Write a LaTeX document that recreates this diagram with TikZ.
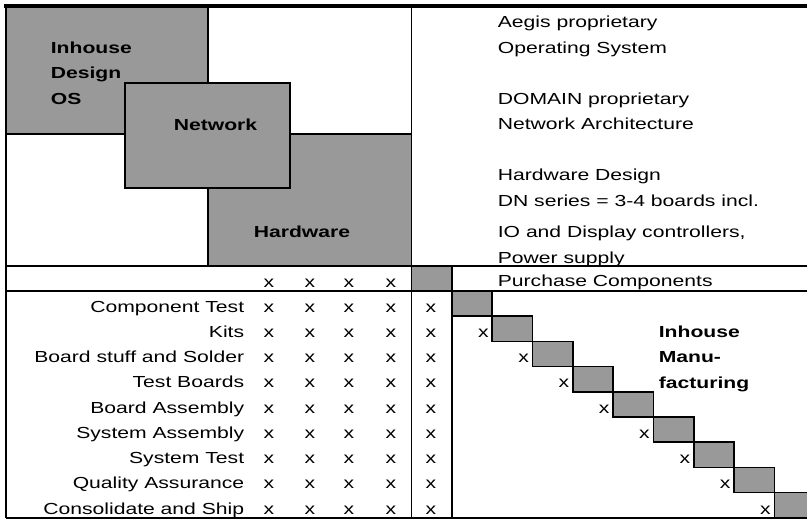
\documentclass[tikz,border=0pt]{standalone}
\usepackage{fontspec}
\setmainfont[FakeStretch=1.32]{Liberation Sans}
\definecolor{boxgrey}{RGB}{153,153,153}
\begin{document}
\begin{tikzpicture}[x=1pt,y=-1pt,line width=1.7pt,
  box/.style={fill=boxgrey,draw=black,line width=1.7pt},
  txt/.style={anchor=base west,inner sep=0pt,font=\fontsize{16}{18}\selectfont},
  btxt/.style={anchor=base west,inner sep=0pt,font=\fontsize{16}{18}\selectfont\bfseries},
  lbl/.style={anchor=base east,inner sep=0pt,font=\fontsize{16}{18}\selectfont},
  mk/.style={anchor=base,inner sep=0pt,font=\fontsize{16}{18}\selectfont}]
\clip (0,0) rectangle (807,520);
% design boxes
\filldraw[box] (6,7) rectangle (208,134);
\filldraw[box] (208,134) rectangle (411.5,266);
\filldraw[box] (125,83) rectangle (290,188);
% frame lines
\draw[line width=2.2pt] (6,6) -- (6,518);
\draw (6,518) -- (807,518);
\draw (411.5,6) -- (411.5,518);
\draw (6,266) -- (807,266);
\draw (6,291) -- (807,291);
\draw (452,266) -- (452,518);
\filldraw[box] (411.5,266) rectangle (452,291);
\draw[line width=4pt] (4,6) -- (807,6);
% staircase
\foreach \i in {0,...,8}{
  \filldraw[box] ({452+40.3*\i},{291+25.2*\i}) rectangle ({452+40.3*(\i+1)},{291+25.2*(\i+1)});
}
\foreach \i in {1,...,8}{
  \node[mk] (sx\i) at ({452+40.3*\i-9},{312+25.25*\i}) {x};
}
% left box texts
\node[btxt] (os1) at (50,53) {Inhouse};
\node[btxt] (os2) at (50,78.5) {Design};
\node[btxt] (os3) at (50,104) {OS};
\node[btxt] (net) at (173,130) {Network};
\node[btxt] (hw) at (253,237) {Hardware};
% right texts
\node[txt] (r1) at (497,27.5) {Aegis proprietary};
\node[txt] (r2) at (497,53) {Operating System};
\node[txt] (r3) at (497,104) {DOMAIN proprietary};
\node[txt] (r4) at (497,129.5) {Network Architecture};
\node[txt] (r5) at (497,180) {Hardware Design};
\node[txt] (r6) at (497,206) {DN series = 3-4 boards incl.};
\node[txt] (r7) at (497,237) {IO and Display controllers,};
\node[txt] (r8) at (497,263) {Power supply};
\node[txt] (pc) at (497,286) {Purchase Components};
\node[btxt] (m1) at (658,337) {Inhouse};
\node[btxt] (m2) at (658,362) {Manu-};
\node[btxt] (m3) at (658,388) {facturing};
% header row marks
\foreach \c [count=\k] in {269,310,349,391}{
  \node[mk] (h\k) at (\c,287) {x};
}
% process rows
\foreach \t [count=\i from 0] in {Component Test,Kits,Board stuff and Solder,Test Boards,Board Assembly,System Assembly,System Test,Quality Assurance,Consolidate and Ship}{
  \node[lbl] (l\i) at (245,{312+25.25*\i}) {\t};
  \foreach \c [count=\k] in {269,310,349,391,431}{
    \node[mk] (c\i-\k) at (\c,{312+25.25*\i}) {x};
  }
}
\end{tikzpicture}
\end{document}
